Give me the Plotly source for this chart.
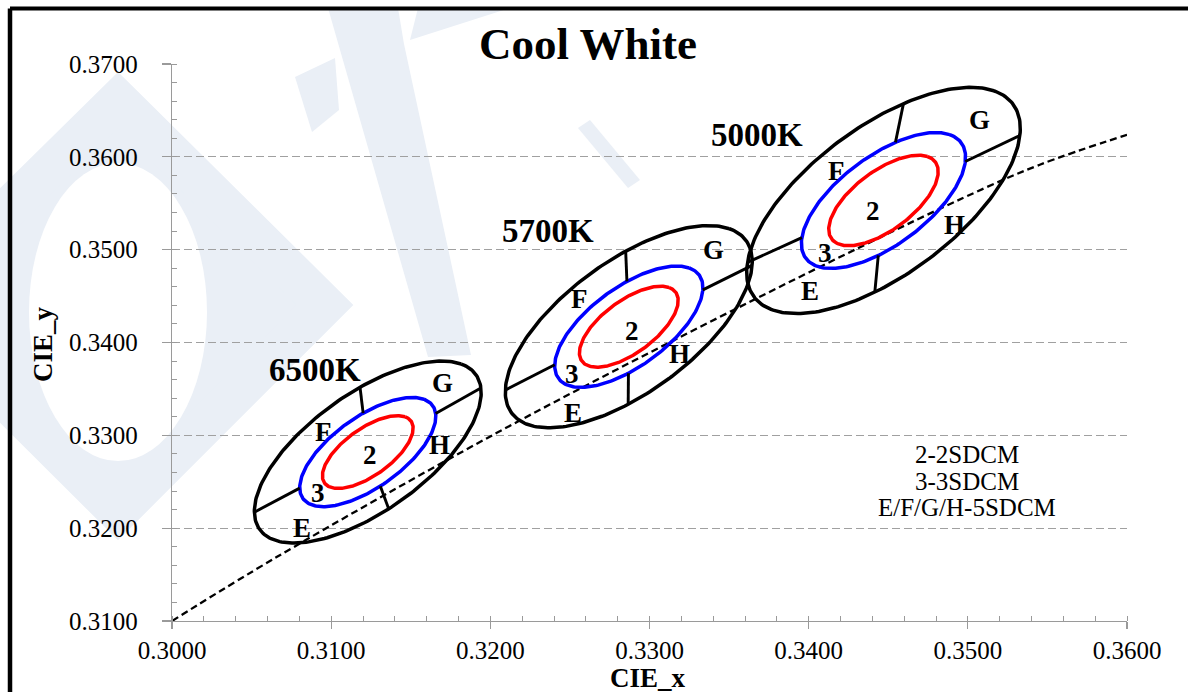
import numpy as np
import plotly.graph_objects as go

# ---------------- data ----------------
cct_labels = ["6500K", "5700K", "5000K"]
center_x = [0.3123, 0.3287, 0.3447]
center_y = [0.3282, 0.3417, 0.3553]
step_a = [0.00223, 0.00246, 0.00274]     # 1-step semi-major axis
step_b = [0.00095, 0.00105, 0.00118]     # 1-step semi-minor axis
theta_deg = [58.23, 59.09, 59.62]
ring_steps = [2, 3, 5]
ring_colors = ["#ff0000", "#0000ff", "#000000"]

# points read on the 5-step ellipses where the E/F/G/H dividers end (LL, UR, top, bottom)
div_x = [[0.30509, 0.31922, 0.31181, 0.31357],
         [0.32077, 0.33631, 0.32850, 0.32866],
         [0.33651, 0.35316, 0.34594, 0.34416]]
div_y = [[0.32165, 0.33492, 0.33523, 0.32230],
         [0.33472, 0.34819, 0.34999, 0.33329],
         [0.34891, 0.36220, 0.36561, 0.34550]]

# black body locus (dashed)
locus_x = [0.30000, 0.30660, 0.32041, 0.33631, 0.34969, 0.35452, 0.36000]
locus_y = [0.31000, 0.31691, 0.33027, 0.34439, 0.35556, 0.35915, 0.36238]

# label positions
cct_label_x = [0.30898, 0.32364, 0.33673]
cct_label_y = [0.33706, 0.35196, 0.36238]
quad_names = ["E", "F", "G", "H", "2", "3"]
quad_x = [[0.30815, 0.30950, 0.31700, 0.31683, 0.31244, 0.30919],
          [0.32521, 0.32563, 0.33400, 0.33191, 0.32888, 0.32511],
          [0.34008, 0.34175, 0.35071, 0.34918, 0.34405, 0.34102]]
quad_y = [[0.32000, 0.33041, 0.33562, 0.32898, 0.32790, 0.32377],
          [0.33246, 0.34468, 0.34992, 0.33878, 0.34119, 0.33660],
          [0.34550, 0.35843, 0.36392, 0.35268, 0.35412, 0.34963]]

note_lines = ["2-2SDCM", "3-3SDCM", "E/F/G/H-5SDCM"]
note_x = 0.34994
note_y = [0.32790, 0.32502, 0.32226]

x_range = [0.30, 0.36]
y_range = [0.31, 0.37]

SERIF = "Liberation Serif, Times New Roman, serif"

W, H = 1188, 692
# plot-area geometry in page pixels
PL, PR, PT, PB = 172, 1127, 64, 621
PW, PH = PR - PL, PB - PT


def px2paper(px, py):
    return (px - PL) / PW, (PB - py) / PH


def path_from_px(points, close=True):
    parts = []
    for k, (px, py) in enumerate(points):
        x, y = px2paper(px, py)
        parts.append(("M" if k == 0 else "L") + " %.5f,%.5f" % (x, y))
    return " ".join(parts) + (" Z" if close else "")


fig = go.Figure()

# ---- faint background watermark ----
WM = "#eaeff6"
diamond = [(118, 100), (325, 305), (118, 512), (-90, 305)]
fig.add_shape(type="path", xref="paper", yref="paper", layer="below",
              path=path_from_px(diamond), fillcolor=WM,
              line=dict(color=WM, width=40))
ex0, ey0 = px2paper(29, 163)
ex1, ey1 = px2paper(207, 461)
fig.add_shape(type="circle", xref="paper", yref="paper", layer="below",
              x0=ex0, y0=ey1, x1=ex1, y1=ey0, fillcolor="white", line=dict(width=0))
band = [(328, 8), (398, 8), (404, 44), (471, 355), (428, 357)]
fig.add_shape(type="path", xref="paper", yref="paper", layer="below",
              path=path_from_px(band), fillcolor=WM, line=dict(width=0))
arrow = [(418, 8), (510, 8), (410, 40)]
fig.add_shape(type="path", xref="paper", yref="paper", layer="below",
              path=path_from_px(arrow), fillcolor=WM, line=dict(width=0))
quad = [(295, 77), (335, 58), (339, 110), (312, 132)]
fig.add_shape(type="path", xref="paper", yref="paper", layer="below",
              path=path_from_px(quad), fillcolor=WM, line=dict(width=0))
bar = [(578, 128), (590, 120), (640, 180), (628, 188)]
fig.add_shape(type="path", xref="paper", yref="paper", layer="below",
              path=path_from_px(bar), fillcolor=WM, line=dict(width=0))


def ellipse(cx, cy, a, b, th, n=241):
    t = np.linspace(0, 2 * np.pi, n)
    x = cx + a * np.cos(t) * np.cos(th) - b * np.sin(t) * np.sin(th)
    y = cy + a * np.cos(t) * np.sin(th) + b * np.sin(t) * np.cos(th)
    return x, y


# locus
fig.add_trace(go.Scatter(x=locus_x, y=locus_y, mode="lines",
                         line=dict(color="black", width=2.3, dash="7px,4px", shape="spline"),
                         hoverinfo="skip", showlegend=False))

for i in range(3):
    th = np.radians(theta_deg[i])
    cx, cy = center_x[i], center_y[i]
    for s, col in zip(ring_steps, ring_colors):
        ex, ey = ellipse(cx, cy, s * step_a[i], s * step_b[i], th)
        fig.add_trace(go.Scatter(x=ex, y=ey, mode="lines",
                                 line=dict(color=col, width=3.5),
                                 hoverinfo="skip", showlegend=False))
    # dividers between 3-step and 5-step ellipses
    A, B = 5 * step_a[i], 5 * step_b[i]
    for qx, qy in zip(div_x[i], div_y[i]):
        dx, dy = qx - cx, qy - cy
        du = (dx * np.cos(th) + dy * np.sin(th)) / A
        dv = (-dx * np.sin(th) + dy * np.cos(th)) / B
        r = np.hypot(du, dv)
        ox, oy = cx + dx / r, cy + dy / r
        ix, iy = cx + dx / r * 3 / 5, cy + dy / r * 3 / 5
        fig.add_trace(go.Scatter(x=[ix, ox], y=[iy, oy], mode="lines",
                                 line=dict(color="black", width=2.9),
                                 hoverinfo="skip", showlegend=False))
    fig.add_annotation(x=cct_label_x[i], y=cct_label_y[i], text="<b>%s</b>" % cct_labels[i],
                       showarrow=False, font=dict(family=SERIF, size=33, color="black"))
    for k, name in enumerate(quad_names):
        fig.add_annotation(x=quad_x[i][k], y=quad_y[i][k], text="<b>%s</b>" % name,
                           showarrow=False,
                           font=dict(family=SERIF, size=27, color="black"))

for line, yy in zip(note_lines, note_y):
    fig.add_annotation(x=note_x, y=yy, text=line, showarrow=False,
                       font=dict(family=SERIF, size=25, color="black"))

# title and axis titles
tx, ty = px2paper(588, 44)
fig.add_annotation(xref="paper", yref="paper", x=tx, y=ty, text="<b>Cool White</b>",
                   showarrow=False, yanchor="middle",
                   font=dict(family=SERIF, size=45, color="black"))
xx, xy = px2paper(648, 678)
fig.add_annotation(xref="paper", yref="paper", x=xx, y=xy, text="<b>CIE_x</b>",
                   showarrow=False, yanchor="middle",
                   font=dict(family=SERIF, size=27, color="black"))
yx, yy_ = px2paper(43, 344)
fig.add_annotation(xref="paper", yref="paper", x=yx, y=yy_, text="<b>CIE_y</b>",
                   showarrow=False, textangle=-90, xanchor="center", yanchor="middle",
                   font=dict(family=SERIF, size=27, color="black"))

# outer frame: only the top and left edges fall inside the picture
fl_x, f_top = px2paper(10, 8.5)
f_rx, f_bot = px2paper(W + 20, H + 20)
fig.add_shape(type="line", xref="paper", yref="paper",
              x0=fl_x, x1=f_rx, y0=f_top, y1=f_top, line=dict(color="black", width=4))
fig.add_shape(type="line", xref="paper", yref="paper",
              x0=fl_x, x1=fl_x, y0=f_bot, y1=f_top, line=dict(color="black", width=4.5))

axis_common = dict(
    showline=True, linecolor="#9a9a9a", linewidth=1.3,
    ticks="outside", tickcolor="#9a9a9a", tickwidth=1.3,
    dtick=0.01, tickformat=".4f",
    tickfont=dict(family=SERIF, size=25, color="black"),
    minor=dict(dtick=0.002, ticks="inside", ticklen=5, tickcolor="#9a9a9a", tickwidth=1, showgrid=False),
    zeroline=False, mirror=False,
)

fig.update_xaxes(range=x_range, showgrid=False, tick0=0.30, ticklen=7, ticklabelstandoff=0,
                 **axis_common)
fig.update_yaxes(range=y_range, showgrid=True, gridcolor="#a0a0a0", gridwidth=1.2,
                 griddash="8px,4px", tick0=0.31, ticklen=9, ticklabelstandoff=19, **axis_common)

fig.update_layout(
    width=W, height=H, autosize=False,
    margin=dict(l=PL, r=W - PR, t=PT, b=H - PB),
    paper_bgcolor="white", plot_bgcolor="rgba(0,0,0,0)",
    showlegend=False, hovermode=False,
)

fig.write_html("out.html", config={"displayModeBar": False, "staticPlot": True},
               post_script="document.body.style.margin='0';document.body.style.overflow='hidden';")
